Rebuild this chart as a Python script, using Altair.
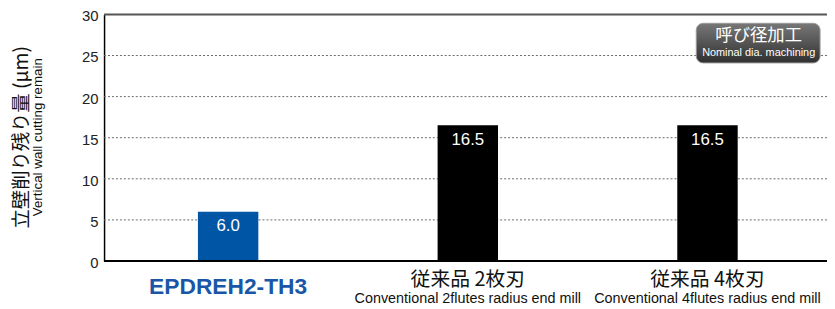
import altair as alt
import pandas as pd

categories = ["EPDREH2-TH3", "従来品 2枚刃", "従来品 4枚刃"]
positions = [0, 1, 2]
values = [6.0, 16.5, 16.5]
bar_colors = ["#0055a5", "#000000", "#000000"]
label_texts = ["6.0", "16.5", "16.5"]
jp_labels = ["", "従来品 2枚刃", "従来品 4枚刃"]
en_labels = ["", "Conventional 2flutes radius end mill", "Conventional 4flutes radius end mill"]
grid_values = [5, 10, 15, 20, 25]
y_ticks = [0, 5, 10, 15, 20, 25, 30]

W, H = 730, 249
df = pd.DataFrame({"cat": categories, "pos": positions, "value": values, "color": bar_colors,
                   "label": label_texts, "jp": jp_labels, "en": en_labels})

yscale = alt.Scale(domain=[0, 30])
yaxis = alt.Axis(values=y_ticks, title=None, grid=False, ticks=False,
                 labelFontSize=15, labelColor="#222", labelPadding=6, labelOffset=1.5,
                 labelFont="Liberation Sans", domainColor="#000", domainWidth=1.5)
xscale = alt.Scale(domain=[-0.497, 2.478], nice=False, zero=False)


def X():
    return alt.X("pos:Q", axis=None, scale=xscale)


grid = alt.Chart(pd.DataFrame({"value": grid_values})).mark_rule(
    color="#6a6a6a", strokeDash=[2, 2], strokeWidth=1).encode(
    y=alt.Y("value:Q", scale=yscale, axis=yaxis))

top_line = alt.Chart(pd.DataFrame({"value": [30]})).mark_rule(
    color="#555", strokeWidth=2).encode(
    y=alt.Y("value:Q", scale=yscale, axis=yaxis))

bars = alt.Chart(df).mark_bar(width=61).encode(
    x=X(), y=alt.Y("value:Q", scale=yscale, axis=yaxis),
    color=alt.Color("color:N", scale=None))

vlabels = alt.Chart(df).mark_text(color="white", fontSize=17, baseline="middle", dy=15,
                                  font="Liberation Sans").encode(
    x=X(), y=alt.Y("value:Q", scale=yscale, axis=yaxis), text="label:N")

base_line = alt.Chart(df).mark_rule(color="#000", strokeWidth=1.8).encode(
    x=alt.value(0), x2=alt.value(W), y=alt.value(H))

main_lbl = alt.Chart(df[df["cat"] == "EPDREH2-TH3"]).mark_text(
    color="#1a56a8", fontSize=23, fontWeight="bold", font="Liberation Sans",
    baseline="middle").encode(x=X(), y=alt.value(275), text="cat:N")

jp_lbl = alt.Chart(df[df["jp"] != ""]).mark_text(
    color="#111", fontSize=20, font="Noto Sans CJK JP", baseline="middle").encode(
    x=X(), y=alt.value(268), text="jp:N")

en_lbl = alt.Chart(df[df["en"] != ""]).mark_text(
    color="#111", fontSize=14.5, font="Liberation Sans", baseline="middle").encode(
    x=X(), y=alt.value(287), text="en:N")

ytitle = alt.Chart(pd.DataFrame({"t": ["立壁削り残り量 (μm)"]})).mark_text(
    angle=270, fontSize=19.5, color="#111", font="Noto Sans CJK JP", baseline="middle").encode(
    x=alt.value(-83), y=alt.value(124), text="t:N")
ysub = alt.Chart(pd.DataFrame({"t": ["Vertical wall cutting remain"]})).mark_text(
    angle=270, fontSize=13.5, color="#111", font="Liberation Sans", baseline="middle").encode(
    x=alt.value(-67), y=alt.value(124), text="t:N")

badge = alt.Chart(pd.DataFrame({"a": [1]})).mark_rect(
    cornerRadius=7, stroke="#999", strokeWidth=1,
    color=alt.Gradient(gradient="linear", x1=0, y1=0, x2=0, y2=1,
                       stops=[alt.GradientStop(offset=0, color="#777777"),
                              alt.GradientStop(offset=1, color="#303030")])).encode(
    x=alt.value(598), x2=alt.value(723), y=alt.value(9), y2=alt.value(49))
badge_t1 = alt.Chart(pd.DataFrame({"t": ["呼び径加工"]})).mark_text(
    color="white", fontSize=17.5, font="Noto Sans CJK JP", baseline="middle").encode(
    x=alt.value(661), y=alt.value(22), text="t:N")
badge_t2 = alt.Chart(pd.DataFrame({"t": ["Nominal dia. machining"]})).mark_text(
    color="white", fontSize=11, font="Liberation Sans", baseline="middle").encode(
    x=alt.value(661), y=alt.value(39), text="t:N")

chart = alt.layer(grid, top_line, bars, vlabels, base_line, main_lbl, jp_lbl, en_lbl,
                  ytitle, ysub, badge, badge_t1, badge_t2).properties(
    width=W, height=H,
    background="white",
    autosize=alt.AutoSizeParams(type="none"),
    padding={"left": 97, "top": 5, "right": 0, "bottom": 47},
).configure_view(stroke=None)

chart.save("out.html", embed_options={"renderer": "svg", "actions": False})
